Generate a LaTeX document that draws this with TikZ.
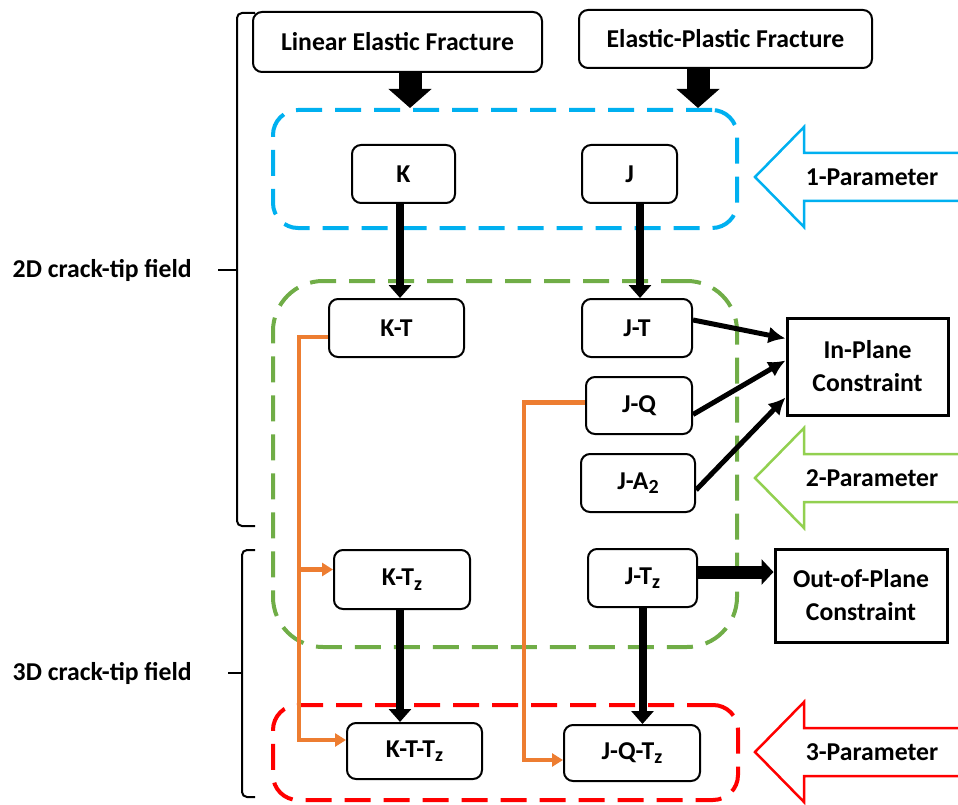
\documentclass[tikz,border=0pt]{standalone}
\usepackage{fontspec}
\setmainfont{Carlito}
\definecolor{parblue}{RGB}{0,176,240}
\definecolor{pargreen}{RGB}{112,173,71}
\definecolor{parlgreen}{RGB}{146,208,80}
\definecolor{parred}{RGB}{255,0,0}
\definecolor{linkorange}{RGB}{237,125,49}
\usetikzlibrary{arrows.meta, positioning, calc}
\newcommand{\lowidx}[1]{\raisebox{-0.35ex}{\fontsize{20}{20}\selectfont #1}}

\tikzset{
  every node/.style={font=\bfseries\fontsize{25.7}{33}\selectfont, align=center, inner sep=0pt},
  valbox/.style={draw, line width=2pt, rounded corners=9pt},
  conbox/.style={draw, line width=3pt},
  grpbox/.style={line width=4pt, dash pattern=on 26pt off 13pt},
  blockarrow/.style={line width=23pt, -{Triangle[width=42pt,length=19pt]}},
  midarrow/.style={line width=8pt, -{Triangle[width=22pt,length=13pt]}},
  thinarrow/.style={line width=5pt, -{Latex[width=17pt,length=17pt]}},
  orangelink/.style={draw=linkorange, line width=4.5pt, -{Triangle[width=13pt,length=11pt]}},
  bracket/.style={line width=2pt, rounded corners=5pt}
}

\begin{document}
\begin{tikzpicture}[x=1pt, y=-1pt]
  \useasboundingbox (0,0) rectangle (958,805);

  % parameter groups
  \node[grpbox, draw=parblue, rounded corners=25pt, minimum width=464pt, minimum height=118pt] (onepar) at (505,169) {};
  \node[grpbox, draw=pargreen, rounded corners=50pt, minimum width=464pt, minimum height=366pt] (twopar) at (505,464) {};
  \node[grpbox, draw=parred, rounded corners=25pt, minimum width=465pt, minimum height=95pt] (threepar) at (505.5,752.5) {};

  % fracture mechanics
  \node[valbox, minimum width=289pt, minimum height=60pt] (LEF) at (397.5,42) {Linear Elastic Fracture};
  \node[valbox, minimum width=293pt, minimum height=58pt] (EPF) at (725.5,39) {Elastic-Plastic Fracture};

  % parameters
  \node[valbox, minimum width=103pt, minimum height=58pt] (K) at (403.5,174) {K};
  \node[valbox, minimum width=95pt, minimum height=58pt] (J) at (629.5,174) {J};
  \node[valbox, minimum width=135pt, minimum height=58pt] (KT) at (396.5,328) {K-T};
  \node[valbox, minimum width=110pt, minimum height=58pt] (JT) at (637,328) {J-T};
  \node[valbox, minimum width=106pt, minimum height=57pt] (JQ) at (639,405.5) {J-Q};
  \node[valbox, minimum width=114pt, minimum height=58pt] (JA) at (638,483) {J-A\lowidx{2}};
  \node[valbox, minimum width=136pt, minimum height=59pt] (KTz) at (402,579.5) {K-T\lowidx{z}};
  \node[valbox, minimum width=109pt, minimum height=58pt] (JTz) at (642.5,578) {J-T\lowidx{z}};
  \node[valbox, minimum width=135pt, minimum height=56pt] (KTTz) at (414.5,751) {K-T-T\lowidx{z}};
  \node[valbox, minimum width=136pt, minimum height=56pt] (JQTz) at (632,753) {J-Q-T\lowidx{z}};

  % constraints
  \node[conbox, minimum width=161pt, minimum height=97pt] (inplane) at (867.5,366.5) {In-Plane\\Constraint};
  \node[conbox, minimum width=172pt, minimum height=93pt] (outplane) at (861,595.5) {Out-of-Plane\\Constraint};

  % connectors
  \draw[blockarrow] ([xshift=12.5pt]LEF.south) -- ([xshift=12.5pt]LEF.south |- onepar.north);
  \draw[blockarrow] ([xshift=-27.5pt]EPF.south) -- ([xshift=-27.5pt]EPF.south |- onepar.north);
  \draw[midarrow] ([xshift=-3.5pt]K.south) -- ([xshift=-3.5pt]K.south |- KT.north);
  \draw[midarrow] ([xshift=10.5pt]J.south) -- ([xshift=10.5pt]J.south |- JT.north);
  \draw[midarrow] ([xshift=-2pt]KTz.south) -- ([xshift=-2pt]KTz.south |- KTTz.north);
  \draw[midarrow] (JTz.south) -- (JTz.south |- JQTz.north);
  \draw[thinarrow] ([yshift=8pt]JT.east) -- ([yshift=28pt]inplane.west);
  \draw[thinarrow] ([yshift=-9pt]JQ.east) -- ([yshift=6pt]inplane.west);
  \draw[thinarrow] ([yshift=-7pt]JA.east) -- ([yshift=-31pt]inplane.west);
  \draw[line width=13pt, -{Triangle[width=25pt,length=12pt]}] ([yshift=6pt]JTz.east) -- ([yshift=6pt]JTz.east -| outplane.west);

  \coordinate (kbus) at ([xshift=-29pt,yshift=-9pt]KT.west);
  \draw[orangelink] (kbus -| KT.west) -- (kbus) |- ([yshift=11pt]KTTz.west);
  \draw[orangelink] ([yshift=10pt]KTz.west -| kbus) -- ([yshift=10pt]KTz.west);
  \draw[orangelink] ([yshift=3pt]JQ.west) -- ++(-61,0) |- ([yshift=-7pt]JQTz.west);

  % hollow arrows
  \foreach \yc/\col/\txt in {177/parblue/1-Parameter, 478/parlgreen/2-Parameter, 752/parred/3-Parameter} {
    \draw[draw=\col, line width=2.5pt] (965,\yc-24) -- (804,\yc-24) -- (804,\yc-50) -- (755,\yc)
      -- (804,\yc+50) -- (804,\yc+24) -- (965,\yc+24);
    \node (par\yc) at (872,\yc) {\txt};
  }

  % crack-tip fields
  \draw[bracket] (255,13) -- (237,13) -- (237,526) -- (255,526);
  \coordinate (tip2d) at (218,270);
  \draw[line width=2pt] (tip2d) -- ++(19,0);
  \node[left=26pt of tip2d] (lab2d) {2D crack-tip field};
  \draw[bracket] (255,550) -- (242,550) -- (242,797) -- (255,797);
  \coordinate (tip3d) at (228,673);
  \draw[line width=2pt] (tip3d) -- ++(14,0);
  \node[left=36pt of tip3d] (lab3d) {3D crack-tip field};
\end{tikzpicture}
\end{document}
